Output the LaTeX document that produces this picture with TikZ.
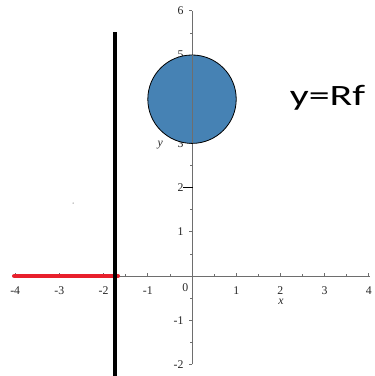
\documentclass[tikz,border=0pt]{standalone}
\usepackage{fontspec}
\usepackage{graphicx}
\setmainfont{Liberation Serif}
\newfontfamily\carlitofont{Carlito}
\definecolor{axisgray}{RGB}{110,110,110}
\definecolor{discblue}{RGB}{70,130,180}
\definecolor{linered}{RGB}{232,32,44}
\begin{document}
\begin{tikzpicture}[x=44.2pt,y=44.2pt,
  axisline/.style={draw=axisgray,line width=0.9pt},
  tickmark/.style={draw=axisgray,line width=0.7pt},
  ticklab/.style={font=\fontsize{11.8}{11.8}\selectfont,text=black!85,inner sep=0pt},
  axislab/.style={font=\fontsize{11.8}{11.8}\selectfont\itshape,text=black!85,inner sep=0pt}]
\useasboundingbox (-4.344,-2.262) rectangle (4.118,6.244);
% axes
\coordinate (xa) at (-4,0);
\coordinate (xb) at (4.03,0);
\coordinate (ya) at (0,-2);
\coordinate (yb) at (0,6);
\draw[axisline] (xa) -- (xb);
\draw[axisline] (ya) -- (yb);
% ticks on x axis (pointing up)
\foreach \k in {-4,...,4}{\draw[tickmark] (\k,0) -- (\k,0.075);}
\foreach \k in {-3.5,-2.5,...,3.5}{\draw[tickmark] (\k,0) -- (\k,0.05);}
% ticks on y axis (pointing left)
\foreach \k in {-2,...,6}{\draw[tickmark] (0,\k) -- (-0.075,\k);}
\foreach \k in {-1.5,-0.5,...,5.5}{\draw[tickmark] (0,\k) -- (-0.05,\k);}
% x tick labels
\foreach \k/\t in {-4/-4,-3/-3,-2/-2,-1/-1,1/1,2/2,3/3,4/4}{
  \node[ticklab,anchor=north] (xl\k) at (\k,-0.23) {\t};}
\node[ticklab,anchor=north] (xl0) at (-0.15,-0.17) {0};
% y tick labels
\foreach \k/\t in {-2/-2,-1/-1,1/1,2/2,3/3,4/4,5/5,6/6}{
  \node[ticklab,anchor=east] (yl\k) at (-0.19,\k) {\t};}
% axis labels
\node[axislab] (xlab) at (2.01,-0.59) {x};
\node[axislab] (ylab) at (-0.72,2.96) {y};
% disc
\node[circle,draw=black,line width=0.8pt,fill=discblue,minimum size=88.4pt,inner sep=0pt] (disc) at (0,4) {};
\draw[axisline] (0,3) -- (0,5);
% marker at y=2
\coordinate (m2a) at (-0.2,2);
\coordinate (m2b) at (0.03,2);
\draw[black,line width=1.2pt] (m2a) -- (m2b);
% black vertical line
\coordinate (vtop) at (-1.742,5.52);
\coordinate (vbot) at (-1.742,-2.4);
% red line
\coordinate (rl) at (-4.02,0.0);
\coordinate (rr) at (-1.68,0.0);
\draw[linered,line width=4.6pt,line cap=round] (rl) -- (rr);
\draw[black,line width=4.7pt] (vtop) -- (vbot);
% stray dot
\fill[black!60] (-2.69,1.65) circle (0.6pt);
% label
\node[font=\carlitofont\fontsize{29.5}{29.5}\selectfont,anchor=base,inner sep=0pt] (lbl) at (3.066,3.853) {\scalebox{1.42}[1]{y=Rf}};
\end{tikzpicture}
\end{document}
